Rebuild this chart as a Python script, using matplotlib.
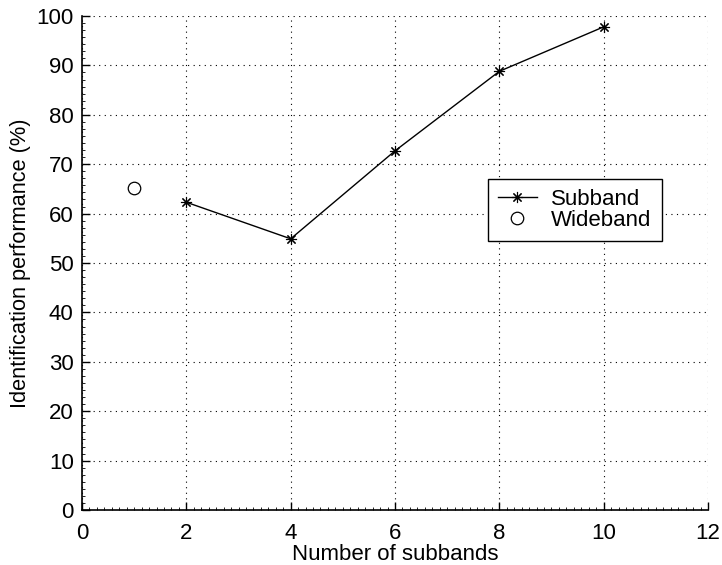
import matplotlib
matplotlib.use("Agg")
import matplotlib.pyplot as plt
from matplotlib.ticker import MultipleLocator, AutoMinorLocator

# values
subbands = [2, 4, 6, 8, 10]
subband_perf = [62.3, 54.9, 72.7, 88.8, 97.8]
wide_x = [1]
wide_perf = [65.2]

plt.rcParams['font.family'] = ['Liberation Sans', 'DejaVu Sans']

fig = plt.figure(figsize=(7.22, 5.65), dpi=100)
ax = fig.add_axes([0.1136, 0.0973, 0.867, 0.8744])

ax.plot(subbands, subband_perf, color='black', lw=1, marker=(8, 2, 0),
        ms=8, mew=0.8, label='Subband')
ax.plot(wide_x, wide_perf, ls='none', marker='o', ms=9, mfc='white',
        mec='black', mew=0.9, label='Wideband')

ax.set_xlim(0, 12)
ax.set_ylim(0, 100)
ax.xaxis.set_major_locator(MultipleLocator(2))
ax.yaxis.set_major_locator(MultipleLocator(10))
ax.xaxis.set_minor_locator(AutoMinorLocator(14))
ax.yaxis.set_minor_locator(AutoMinorLocator(7))
ax.tick_params(which='major', direction='in', length=6, width=1,
               labelsize=16, pad=6)
ax.tick_params(axis='x', which='major', pad=9)
ax.tick_params(which='minor', direction='in', length=2.5, width=0.6)

for s in ['top', 'right']:
    ax.spines[s].set_visible(False)
for s in ['left', 'bottom']:
    ax.spines[s].set_linewidth(1.2)

ax.grid(True, which='major', ls=(0, (1, 4)), color='black', lw=0.8)
ax.set_axisbelow(True)

ax.set_xlabel('Number of subbands', fontsize=16, labelpad=0)
ax.set_ylabel('Identification performance (%)', fontsize=15.7, labelpad=4)

leg = ax.legend(loc='upper left', bbox_to_anchor=(0.6486, 0.670),
                borderaxespad=0, fontsize=16, fancybox=False,
                edgecolor='black', framealpha=1, handlelength=1.75,
                labelspacing=0.0, borderpad=0.45, handletextpad=0.65)
leg.get_frame().set_linewidth(1)

fig.savefig('out.png', dpi=100)
